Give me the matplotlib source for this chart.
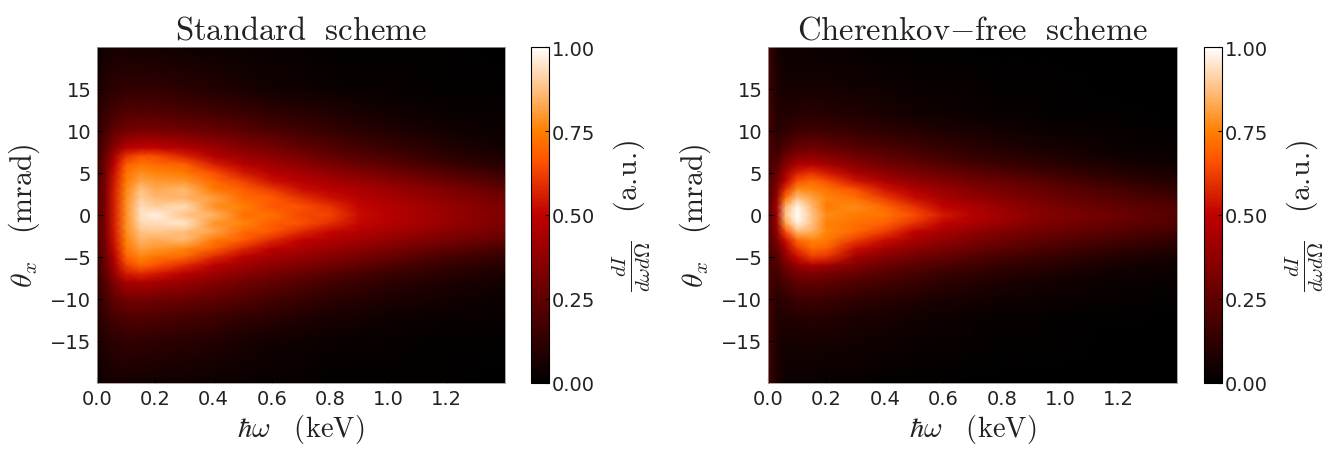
import numpy as np
import matplotlib
matplotlib.use('Agg')
import matplotlib.pyplot as plt

plt.rcParams['mathtext.fontset'] = 'cm'

# photon energy (keV) and angle (mrad) of the grid nodes
energy = [0, .03, .06, .1, .15, .2, .3, .4, .5, .6, .7, .8, .9, 1.0, 1.2, 1.4]
theta = [20, 15, 12, 10, 8, 7, 6, 5, 4, 3, 2, 1, 0, -1, -2, -3, -4, -5, -6, -7, -8, -10, -12, -15, -20]

standard = [
    [.03, .05, .06, .06, .05, .05, .04, .03, .03, .02, .02, .01, .01, .01, .01, .00],
    [.07, .10, .12, .13, .13, .13, .11, .09, .07, .05, .04, .03, .02, .02, .01, .01],
    [.10, .15, .19, .22, .22, .22, .20, .18, .16, .13, .11, .09, .07, .05, .03, .02],
    [.12, .19, .26, .30, .32, .32, .30, .27, .24, .20, .17, .14, .11, .09, .05, .03],
    [.15, .25, .36, .48, .50, .50, .46, .41, .35, .31, .26, .22, .18, .15, .09, .05],
    [.16, .28, .44, .60, .66, .65, .57, .47, .41, .36, .31, .26, .22, .19, .12, .07],
    [.17, .30, .50, .68, .73, .71, .69, .56, .48, .42, .37, .32, .27, .24, .16, .10],
    [.18, .32, .53, .72, .78, .76, .74, .66, .55, .48, .43, .38, .34, .30, .22, .15],
    [.19, .33, .55, .74, .82, .80, .79, .71, .63, .53, .48, .44, .40, .36, .28, .20],
    [.19, .34, .56, .76, .88, .83, .86, .74, .69, .62, .53, .49, .45, .41, .33, .26],
    [.20, .34, .56, .77, .90, .86, .85, .81, .71, .68, .60, .53, .48, .44, .36, .30],
    [.20, .34, .56, .78, .93, .90, .93, .78, .75, .67, .66, .60, .51, .47, .39, .32],
    [.20, .34, .56, .78, .94, .97, .88, .85, .72, .72, .64, .63, .52, .48, .40, .33],
    [.20, .34, .56, .78, .92, .93, .95, .79, .76, .68, .66, .59, .51, .47, .39, .32],
    [.20, .34, .55, .77, .88, .89, .87, .82, .71, .67, .58, .51, .47, .43, .36, .30],
    [.19, .33, .54, .75, .85, .83, .86, .74, .68, .58, .50, .46, .42, .38, .31, .25],
    [.19, .32, .52, .73, .81, .79, .76, .69, .58, .49, .45, .41, .37, .33, .25, .19],
    [.18, .30, .48, .69, .76, .73, .70, .58, .49, .43, .39, .35, .31, .27, .19, .14],
    [.16, .28, .44, .62, .70, .66, .58, .49, .42, .37, .33, .29, .25, .21, .14, .10],
    [.15, .26, .40, .55, .58, .55, .48, .42, .36, .31, .27, .23, .19, .16, .11, .07],
    [.14, .23, .34, .44, .46, .44, .40, .35, .30, .26, .22, .18, .15, .12, .08, .05],
    [.12, .19, .26, .30, .31, .30, .28, .25, .22, .18, .15, .12, .10, .08, .05, .03],
    [.10, .15, .19, .21, .22, .21, .19, .17, .14, .12, .09, .07, .06, .04, .03, .02],
    [.07, .10, .12, .13, .13, .12, .11, .09, .07, .05, .04, .03, .02, .02, .01, .01],
    [.03, .05, .06, .06, .05, .05, .04, .03, .03, .02, .02, .01, .01, .01, .01, .00],
]

cherenkov_free = [
    [.18, .07, .03, .03, .03, .02, .02, .01, .01, .01, .00, .00, .00, .00, .00, .00],
    [.19, .08, .06, .06, .06, .06, .05, .04, .03, .02, .02, .01, .01, .01, .00, .00],
    [.19, .10, .09, .10, .11, .10, .09, .07, .05, .04, .03, .02, .02, .01, .01, .00],
    [.19, .11, .13, .16, .17, .16, .14, .12, .10, .08, .07, .05, .04, .03, .02, .01],
    [.20, .15, .21, .27, .29, .27, .23, .20, .17, .14, .11, .09, .07, .06, .03, .02],
    [.20, .18, .28, .35, .37, .35, .29, .25, .21, .17, .14, .12, .10, .08, .04, .03],
    [.20, .22, .35, .45, .47, .44, .36, .30, .26, .22, .19, .16, .13, .11, .07, .04],
    [.20, .26, .42, .56, .60, .55, .44, .37, .32, .28, .24, .21, .18, .15, .10, .06],
    [.21, .30, .50, .66, .71, .66, .54, .45, .39, .34, .30, .27, .24, .20, .14, .09],
    [.22, .34, .60, .78, .76, .73, .66, .54, .46, .40, .35, .31, .28, .25, .19, .13],
    [.22, .38, .72, .88, .82, .76, .72, .62, .52, .44, .39, .35, .31, .27, .22, .17],
    [.23, .42, .85, .98, .86, .74, .77, .70, .60, .50, .45, .40, .35, .31, .26, .21],
    [.23, .42, .88, 1.0, .88, .77, .74, .73, .65, .55, .47, .42, .37, .33, .28, .22],
    [.23, .40, .82, .97, .88, .75, .72, .69, .60, .50, .45, .40, .35, .31, .26, .21],
    [.22, .36, .65, .86, .84, .76, .70, .62, .50, .43, .38, .33, .30, .27, .22, .17],
    [.21, .32, .53, .70, .76, .74, .62, .52, .44, .38, .33, .29, .26, .23, .18, .13],
    [.20, .27, .44, .61, .70, .68, .52, .43, .37, .32, .28, .24, .21, .18, .13, .09],
    [.20, .23, .37, .52, .62, .60, .42, .35, .30, .26, .22, .19, .16, .14, .09, .06],
    [.19, .20, .30, .40, .45, .42, .34, .28, .24, .20, .17, .14, .12, .10, .06, .04],
    [.19, .17, .25, .31, .33, .31, .27, .22, .19, .15, .13, .10, .09, .07, .04, .03],
    [.19, .15, .20, .25, .26, .25, .21, .18, .15, .12, .10, .08, .06, .05, .03, .02],
    [.19, .11, .13, .16, .17, .16, .13, .11, .09, .07, .06, .04, .04, .03, .02, .01],
    [.19, .09, .09, .10, .11, .10, .08, .07, .05, .04, .03, .02, .02, .01, .01, .00],
    [.19, .08, .06, .06, .06, .06, .05, .04, .03, .02, .02, .01, .01, .01, .00, .00],
    [.18, .07, .03, .03, .03, .02, .02, .01, .01, .01, .00, .00, .00, .00, .00, .00],
]

xticks = [0.0, 0.2, 0.4, 0.6, 0.8, 1.0, 1.2]
yticks = [-15, -10, -5, 0, 5, 10, 15]
cticks = [0.0, 0.25, 0.5, 0.75, 1.0]

W, H = 1327, 460
INK = '#222222'


def box(x0, x1, y0, y1):
    return [x0 / W, 1 - y1 / H, (x1 - x0) / W, (y1 - y0) / H]


def panel(fig, values, title, ax_px, cax_px):
    ax = fig.add_axes(box(*ax_px))
    cax = fig.add_axes(box(*cax_px))
    mesh = ax.pcolormesh(energy, theta, np.array(values), cmap='gist_heat',
                         vmin=0, vmax=1, shading='gouraud')
    ax.set_xlim(0, 1.4)
    ax.set_ylim(-20, 20)
    ax.set_xticks(xticks)
    ax.set_yticks(yticks)
    ax.set_xticklabels(['%.1f' % t for t in xticks])
    ax.set_yticklabels(['\u2212%d' % -t if t < 0 else '%d' % t for t in yticks])
    ax.tick_params(labelsize=14, length=4, direction='in', color='black', pad=4, labelcolor=INK)
    for s in ax.spines.values():
        s.set_linewidth(0.6)
        s.set_edgecolor('#999999')
    ax.set_title(title, fontsize=23.5, pad=6, color=INK)
    ax.set_xlabel(r'$\hbar\omega\ \ \ \mathrm{(keV)}$', fontsize=20.5, labelpad=3, color=INK)
    ax.set_ylabel(r'$\theta_x\ \ \ \mathrm{(mrad)}$', fontsize=21.5, labelpad=6, color=INK)

    cb = fig.colorbar(mesh, cax=cax, ticks=cticks)
    cb.ax.set_yticklabels(['%.2f' % t for t in cticks])
    cb.ax.tick_params(labelsize=14, length=3, pad=2, direction='in', labelcolor=INK)
    cb.outline.set_linewidth(0.8)
    cb.set_label(r'$\frac{dI}{d\omega d\Omega}\ \ \ \mathrm{(a.\!u.\!)}$', fontsize=21.5, labelpad=11, color=INK)


fig = plt.figure(figsize=(W / 100, H / 100), dpi=100)
panel(fig, standard, r'$\mathrm{Standard\ \ scheme}$', (97, 505, 48, 384), (531, 549, 48, 384))
panel(fig, cherenkov_free, r'$\mathrm{Cherenkov{-}free\ \ scheme}$', (768, 1177, 48, 384), (1204, 1222, 48, 384))
fig.savefig('out.png', dpi=100)
